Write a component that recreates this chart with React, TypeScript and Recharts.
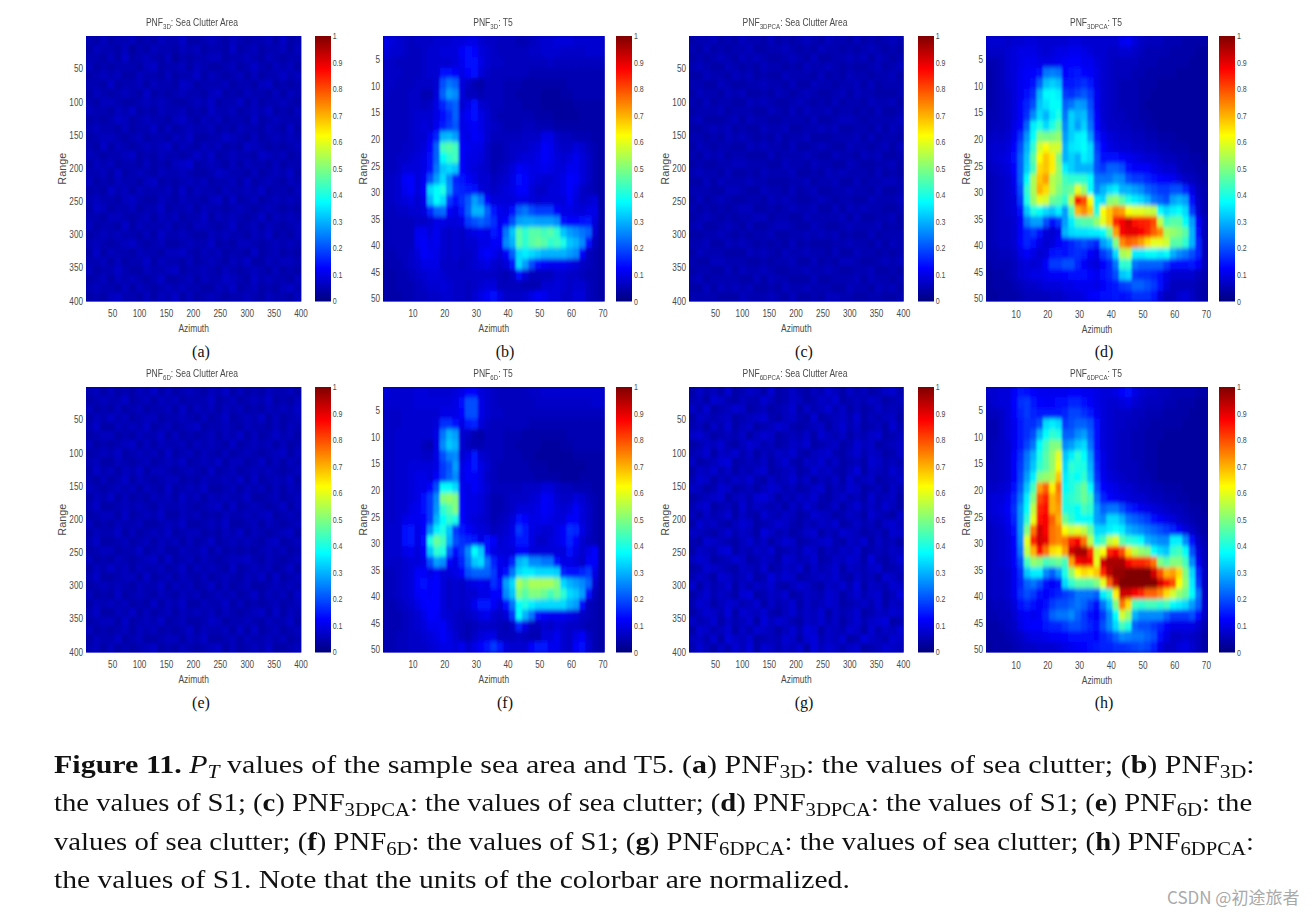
import React from "react";
import { ScatterChart, Scatter, XAxis, YAxis, CartesianGrid, BarChart, Bar, Label } from "recharts";

const seaA = [
"546455645465574456546545564745","465546354655465645547456455646","554647456546354556645565465455","645455546745564654456457546564",
"456564465546455746545646455756","554745564655476455564554674545","465456547454565546745465546465","546654456565445657455746455654",
"655465745465564547556456574546","454576456554675465645547456555","565546455746456556454655465474","456654564554657445576546456565",
"547465456567465465645476545456","654556745465545757456554765645","465645546454678456546465546455","556474565465565445765546456574",
"645465546745456564556474565465","454756465556474655465565745546","565546754465465546747456456565","476455645574556465545654565454",
"554665456465645574656545746565","645547465556454665457456465456","456565546475565446565546574546","565456754564456557454665456565",
"474655465546675465645547456454","556464557465546456546574465665","645575446556745565465456546454","456465654574456465576547565546",
"565546465456565544657456454675","454675546465746456545565465546",
];
const seaC = [
"455645465546454565465546454565","546454556445565454655454565454","454565465654456546445565646545","565446545465545465565454456456",
"446554656454465554645465545564","554465445565546446554556464555","465546564454654565445646554445","546455446565445654546455465564",
"455564555446546465564554546445","564445646554455546445665455556","445656454465564455656445546465","554546565454645564445556464554",
"465455446565546445654465545646","546564554446455565446554656445","454455665554465546554465445564","565546445465556445465655546454",
"446465556554445564556446455665","555446654465546456445565546445","464565445546565445654554465556","545454566445456556446465655445",
"456545455664554465555646445564","564456546445665446544565556454","445565454556445565656454464555","556446565454546454445565546465",
"465554446565465565546446554545","544665554454556446454665445656","455446465565445565565445564454","564555544646554446445556465545",
"446465656445465565554465546564","555544465556546445466554455445",
];
const seaE = [
"564645465746456546574645465564","456557456465645557456456574546","645464564556474656465645465657","465756456645565464574565746456",
"574465657456456745565465546465","456645465574645456465746457564","645456746465564656547456564645","456574565647456465464565456746",
"564465456456574565746645746465","475646574665456547456456565456",
"546457465456645465565747456574","654565646547456574456465646465","465746454656475646565574456456",
"574456565465565456747456545746","456647456574465645465565674565","645465564456574456574456465456",
"465574645657456645465746545674","574456456465646457456565467456","456645574564465574645454565645",
"645465456747456465456675465456","465756465564574656547456564574","574456647456465464565465747456",
"456565465574656457464564456565","645474565465465645656457465647","465656454746574465574645456456",
"574465746456465656465456747465","456647456574564457645565465574","645456465645457465564747456456",
"465574564456646574456465565645","564645456745465456746456574456",
];
const seaG = [
"475648457648457546586475645785","564875465586457645768456576456","758456874564568475685746457565","476567456785467548456758465674",
"564758467456875456746857456485","786456574687456574865746578456","457685468756457684567458674567","568476857465768546785468576457",
"745689456574685476857456487565","476857465784567458675469476586",
"587465768547568574657485674567","764587456468756457846587456475","456784675897465768546756485674",
"578456485765647586457468575864","647568475486576458764576486547","486754687456875465768457564786",
"765468576497564578465876456487","548765468574687456785476847564","476589465768456587465768456576",
"687456874576487568457687495468","458765476584576847568476578456","576487568459687456768547564875",
"847568475768546875476859476587","468576489457684576587468578469","587468756847568475687456758476",
"468759487685468576847568457687","756847568496875476857468578945","487568475876468598476587485768",
"675849768456587489576845976587","586475869487576849687578456876",
];

const peakB = [
[10,9,8,7,6,7,7,7,8,8,8,9,9,10,10,8,7,7,6,6,6,5,5,6,7,8,8,9,9,9,8,8,8,8,8],
[9,8,8,7,6,6,7,8,8,9,9,9,12,14,13,9,8,7,6,6,6,6,6,7,7,8,8,8,7,7,7,7,8,8,8],
[7,7,6,6,6,6,7,8,8,8,8,9,11,14,14,10,8,7,7,6,6,6,6,6,6,6,7,6,6,6,6,6,6,6,6],
[7,7,7,6,6,6,7,8,8,14,14,12,10,13,14,9,7,6,6,6,6,6,6,5,5,5,5,5,5,5,5,5,5,5,5],
[7,7,6,6,6,7,7,7,8,20,24,22,9,7,5,4,6,6,6,5,5,5,4,4,4,4,4,4,4,5,5,5,5,5,5],
[7,6,6,6,7,7,5,5,9,22,28,26,9,6,6,5,6,6,6,5,5,4,4,4,4,3,3,3,4,4,5,5,5,5,5],
[6,6,6,6,7,7,6,7,10,16,20,22,8,10,14,8,7,6,6,5,5,5,4,4,4,3,3,3,3,3,4,4,4,4,4],
[6,6,6,6,7,8,8,8,10,14,17,22,10,12,14,10,8,6,5,5,5,5,5,5,4,4,4,3,3,3,3,4,4,4,4],
[6,6,6,6,7,8,9,8,11,15,18,21,10,11,12,10,8,7,6,5,5,5,6,6,5,5,5,4,4,4,4,4,4,4,4],
[6,6,6,6,7,8,8,11,16,30,31,28,11,10,12,11,8,6,6,6,6,6,7,7,7,10,10,7,6,6,5,5,5,4,4],
[6,6,6,7,7,8,9,13,22,44,46,44,12,11,10,10,7,5,5,6,7,7,7,8,9,12,11,8,7,7,9,8,6,5,4],
[6,6,7,7,8,9,10,14,22,38,42,44,12,10,10,9,7,5,5,6,7,8,9,9,10,12,11,9,8,9,11,9,7,5,4],
[6,6,7,9,9,9,10,14,24,32,34,32,12,10,9,8,7,5,6,7,9,12,11,10,10,11,10,9,9,11,11,9,7,5,4],
[6,7,8,12,13,9,11,20,28,34,26,16,15,12,10,8,8,6,7,8,10,14,13,10,9,8,8,9,10,13,12,9,7,5,4],
[6,7,8,11,13,9,12,34,38,40,27,17,16,15,14,9,8,7,8,9,10,13,13,9,7,7,9,9,10,13,10,7,6,5,4],
[6,7,8,9,10,8,10,30,38,34,18,14,17,21,28,24,12,9,9,9,9,10,10,9,8,9,9,9,9,12,9,7,8,9,4],
[6,6,7,7,8,8,9,16,22,23,12,10,15,22,30,30,22,15,11,10,14,22,24,20,18,18,18,12,10,10,9,9,10,10,4],
[5,6,6,6,6,7,7,8,10,10,9,9,10,18,20,22,20,17,11,13,20,28,29,29,28,28,28,26,14,13,13,14,15,9,4],
[5,6,6,6,6,11,11,9,11,8,7,8,7,9,10,11,10,15,13,24,32,46,42,46,46,44,46,42,32,28,26,24,22,8,4],
[5,6,6,6,6,11,12,10,11,8,7,8,7,8,8,10,10,12,12,26,30,46,42,46,48,46,42,44,40,32,30,26,14,6,4],
[5,5,6,6,7,9,12,11,10,8,7,8,7,7,8,11,13,11,9,12,22,34,36,34,32,30,30,30,30,28,26,13,6,5,4],
[4,5,5,6,7,8,10,10,10,7,7,7,6,7,8,9,10,8,7,9,15,34,28,20,14,12,11,11,11,10,9,7,6,5,4],
[4,4,5,5,6,7,8,9,9,8,7,7,7,7,7,7,7,7,6,5,7,14,9,6,6,6,6,8,8,7,7,6,5,5,4],
[4,4,5,5,5,6,7,8,8,9,8,7,7,6,7,8,9,9,6,6,6,6,5,5,5,8,8,9,8,7,8,8,6,5,4],
[4,4,4,5,5,6,6,7,7,8,8,7,7,6,8,10,12,14,10,7,7,7,8,10,12,11,9,9,7,7,9,9,6,5,4],
];
const peakD = [
[8,8,8,7,8,8,9,9,8,8,8,8,8,9,9,8,8,8,8,8,8,11,12,9,7,6,6,6,5,5,5,4,4,4,4],
[7,7,7,8,9,10,10,10,9,8,9,10,10,11,11,10,9,8,8,7,7,8,8,7,6,5,5,5,5,4,4,4,4,3,3],
[5,5,6,8,9,10,11,11,10,10,10,11,12,13,13,11,11,9,8,7,6,6,6,6,5,5,5,4,4,4,4,4,3,3,3],
[4,5,6,8,9,11,12,13,14,24,25,24,13,14,15,13,12,10,8,7,6,6,6,5,5,4,4,4,4,4,3,3,3,3,3],
[4,5,6,8,9,11,12,14,22,31,33,31,15,15,16,17,15,10,8,7,6,5,5,5,4,4,4,3,3,3,3,3,3,3,3],
[4,5,6,7,9,11,14,17,30,37,38,36,18,17,19,21,18,11,8,7,6,5,5,5,4,4,3,3,3,3,3,3,3,3,3],
[4,5,6,7,9,12,16,20,32,35,38,38,22,24,28,27,20,11,8,7,6,5,5,5,4,3,3,3,3,3,3,3,3,3,3],
[5,5,6,7,9,12,17,26,34,30,36,40,24,33,30,31,22,12,8,7,6,6,5,5,4,4,3,3,3,3,3,3,3,3,3],
[5,6,6,7,10,13,22,36,40,34,40,46,26,33,28,33,24,13,9,7,7,6,6,5,5,4,4,3,3,3,3,3,3,3,3],
[6,7,7,8,11,17,27,38,50,49,50,52,28,33,36,37,28,15,11,9,8,7,7,6,6,5,5,4,4,4,3,3,3,3,3],
[7,8,8,9,13,20,30,42,58,62,58,58,30,35,36,38,34,18,13,10,9,8,8,7,7,6,6,5,5,4,4,4,3,3,3],
[7,8,9,10,14,22,32,46,62,68,64,50,30,33,30,36,34,20,14,14,14,12,11,10,9,8,8,7,6,6,5,5,4,4,3],
[6,7,8,9,13,22,33,44,66,68,64,52,36,33,30,30,30,20,18,22,22,20,14,12,12,12,10,9,8,8,6,5,5,4,4],
[5,6,7,8,11,22,38,54,68,72,55,52,44,42,42,42,38,24,24,24,27,26,20,18,18,16,14,13,12,11,9,7,6,5,4],
[5,6,7,8,10,20,42,54,70,66,56,50,46,48,60,52,38,26,30,34,36,30,30,28,26,22,20,18,18,20,20,16,10,6,5],
[5,6,7,8,9,18,40,52,60,58,48,46,42,56,86,80,62,36,34,50,52,46,40,36,34,30,24,22,20,28,30,28,14,7,5],
[5,6,7,8,9,14,32,40,38,34,32,36,28,44,70,74,68,40,62,68,74,72,62,60,60,58,56,38,34,36,38,34,18,8,5],
[5,6,7,7,8,12,24,28,28,20,14,18,28,36,44,46,46,52,60,68,84,88,92,86,85,84,80,56,44,46,46,38,28,12,6],
[5,6,7,7,8,12,16,18,14,9,8,10,30,34,35,35,36,36,38,48,72,88,90,90,88,84,78,74,54,52,50,46,30,14,6],
[5,6,7,7,8,13,16,14,10,8,9,12,14,16,18,20,18,16,28,32,50,74,78,76,72,66,60,60,58,46,46,42,30,16,6],
[5,5,6,6,7,10,12,10,8,9,14,15,14,16,17,16,12,10,18,22,34,54,56,36,36,38,38,36,38,30,26,24,20,16,6],
[4,5,5,5,6,8,9,8,9,12,18,18,20,20,16,12,10,9,13,16,24,42,42,24,22,22,22,22,18,14,14,14,15,12,6],
[3,4,4,5,6,8,9,10,10,11,12,12,13,14,14,14,13,11,14,16,20,32,34,18,17,17,16,14,10,8,8,8,8,6,5],
[3,4,4,4,5,6,7,7,8,9,9,9,10,10,11,11,11,10,12,14,15,18,19,22,22,20,18,14,9,6,6,6,6,5,4],
[3,3,4,4,4,5,6,6,6,6,7,7,8,9,9,10,12,13,14,14,15,14,15,17,17,17,15,9,6,6,8,9,7,5,4],
];
const peakF = [
[9,8,8,8,8,9,9,8,8,8,8,9,10,13,13,9,8,7,6,6,6,6,6,7,7,8,8,8,8,8,8,8,8,8,8],
[8,8,8,8,8,9,9,9,9,9,9,10,14,20,20,10,8,7,6,6,6,6,6,6,7,7,7,7,7,7,7,7,7,8,8],
[7,7,7,8,8,8,8,8,8,10,10,10,13,20,20,10,8,7,7,6,6,6,6,6,6,6,6,6,6,6,6,6,6,6,6],
[7,7,7,8,8,8,8,8,9,17,17,14,10,15,16,9,7,6,6,6,6,6,6,5,5,5,5,5,5,5,5,5,5,5,5],
[7,7,8,8,8,8,8,8,10,24,30,28,8,7,5,4,6,6,6,5,5,5,4,4,4,4,4,4,4,5,5,5,5,5,5],
[7,7,8,8,8,8,6,5,10,26,32,30,8,6,5,5,6,6,6,5,5,4,4,4,4,3,3,3,4,4,5,5,5,5,5],
[7,7,8,8,8,8,7,7,10,20,25,26,8,10,15,8,7,6,6,5,5,5,4,4,3,3,3,3,3,3,4,4,4,4,4],
[7,7,8,8,9,9,9,9,10,18,21,28,10,12,15,10,8,6,5,5,5,5,5,4,4,4,3,3,3,3,3,3,4,4,4],
[7,7,8,8,9,10,10,9,12,18,22,26,10,12,12,10,7,6,5,5,5,5,5,5,4,4,4,4,3,3,3,4,4,4,4],
[7,7,8,8,9,10,10,13,20,38,38,34,11,10,12,10,8,6,6,6,6,6,7,7,7,9,9,7,6,6,5,5,5,4,4],
[7,7,8,8,9,10,14,18,26,50,52,50,12,10,10,9,7,5,5,6,7,7,7,8,9,12,11,8,7,7,9,8,6,5,4],
[7,7,8,8,10,11,14,18,27,42,46,50,13,10,10,9,7,5,5,6,7,9,9,9,10,12,11,9,8,9,12,9,7,5,4],
[7,7,8,10,11,11,12,18,30,38,42,40,13,10,9,8,7,5,6,7,9,14,13,10,10,11,10,9,9,12,12,9,7,5,4],
[7,8,8,14,15,10,13,26,36,40,32,18,15,12,10,9,8,6,7,8,10,18,15,10,9,8,8,10,12,17,16,10,7,5,4],
[7,8,8,14,15,10,14,40,48,44,30,20,17,16,15,10,14,12,8,9,10,15,15,10,7,7,9,10,12,16,12,8,6,5,4],
[7,8,8,10,11,9,12,32,42,40,22,14,18,26,38,32,14,10,9,9,9,12,12,9,9,9,9,9,9,14,10,8,10,13,4],
[7,7,7,8,9,9,10,20,28,26,12,10,16,24,32,34,24,16,11,10,16,30,32,26,26,24,24,14,10,10,9,7,12,12,4],
[5,6,7,8,9,12,12,10,12,9,9,10,12,20,22,22,22,18,11,14,24,34,36,36,34,34,34,33,16,14,14,16,18,10,4],
[5,6,7,8,9,13,14,12,13,9,7,8,7,9,10,11,10,17,14,28,34,54,50,54,54,54,54,50,34,30,28,26,22,8,4],
[5,6,7,8,9,12,13,12,13,9,7,8,7,8,8,10,10,13,13,26,32,50,46,50,50,48,44,48,42,34,32,28,14,6,4],
[5,5,6,7,8,10,12,13,13,9,7,8,7,8,11,15,15,12,9,14,24,38,40,36,34,34,34,34,34,30,28,14,6,5,4],
[5,5,5,6,7,8,10,13,12,9,8,7,6,7,8,10,11,8,7,9,18,38,30,24,14,12,11,11,11,10,9,7,6,5,4],
[5,5,5,6,7,8,9,11,11,12,9,7,6,5,6,7,7,7,6,5,7,16,10,6,6,8,7,9,8,7,7,6,5,5,4],
[5,5,6,6,7,7,8,9,10,12,10,8,6,5,7,9,10,10,6,6,6,7,6,5,5,9,9,11,8,7,10,12,7,5,4],
[5,5,6,6,7,7,7,8,9,10,10,9,11,8,10,13,15,18,15,9,8,8,8,13,15,15,11,11,8,7,12,14,8,5,4],
];
const peakH = [
[8,8,9,9,12,15,14,13,11,11,11,11,11,12,12,11,11,10,9,9,10,13,14,10,8,7,7,6,6,5,5,5,5,4,4],
[7,8,9,9,13,17,18,15,13,12,12,14,14,16,16,14,12,10,9,8,8,9,10,8,7,6,6,6,5,5,4,4,4,3,3],
[6,6,7,9,12,16,18,16,15,15,15,15,16,19,19,17,15,11,9,8,7,7,7,6,6,5,5,5,4,4,4,4,3,3,3],
[5,5,7,9,11,15,17,17,20,34,36,34,18,20,22,22,20,14,9,8,7,7,6,6,5,5,4,4,4,4,4,3,3,3,3],
[5,5,7,9,11,15,17,20,30,38,42,40,22,22,26,28,22,14,9,8,7,6,6,5,5,4,4,4,3,3,3,3,3,3,3],
[5,6,7,8,11,15,19,24,38,44,50,50,26,28,32,34,24,14,9,8,7,6,6,5,5,4,4,3,3,3,3,3,3,3,3],
[5,6,7,8,12,17,24,30,40,46,52,60,32,36,42,38,28,15,10,8,7,6,6,5,5,4,4,3,3,3,3,3,3,3,3],
[6,6,7,8,12,18,25,32,42,46,52,62,34,42,40,40,30,16,10,8,7,6,6,6,5,4,4,3,3,3,3,3,3,3,3],
[6,6,7,8,12,19,28,36,50,52,54,68,36,40,38,42,32,17,11,9,8,7,6,6,5,5,4,3,3,3,3,3,3,3,3],
[7,7,8,9,14,21,32,44,72,78,64,76,38,40,44,48,38,20,13,11,10,8,8,7,6,6,5,5,4,4,4,3,3,3,3],
[8,9,9,11,16,24,36,50,80,84,70,74,40,42,44,48,44,24,16,13,11,10,9,8,8,7,6,6,5,5,4,4,3,3,3],
[8,9,10,12,17,27,38,56,84,86,70,72,40,40,38,44,42,28,22,24,24,20,16,14,11,10,9,8,7,6,6,5,4,4,3],
[7,8,9,11,16,27,42,60,86,88,78,70,48,42,38,38,38,28,26,34,34,30,24,22,20,18,14,12,10,9,7,6,5,4,4],
[6,7,8,10,14,27,50,76,92,88,76,74,62,58,60,56,48,34,34,36,38,36,30,28,26,24,22,20,18,16,12,9,7,5,4],
[6,7,8,9,13,26,60,84,92,90,76,74,76,84,88,76,56,40,44,56,60,46,42,40,38,30,28,26,26,36,36,26,14,7,5],
[6,7,8,9,12,24,56,70,86,76,66,64,72,92,96,96,84,58,62,84,88,80,66,56,52,50,38,34,32,42,44,38,20,9,6],
[6,7,8,9,12,20,44,52,50,44,46,48,44,72,88,90,88,60,92,96,96,96,88,84,84,82,76,50,46,50,50,44,26,11,6],
[6,7,7,8,11,17,32,36,36,26,22,28,40,52,62,66,64,68,84,94,98,98,100,100,100,100,92,80,70,72,66,50,34,16,7],
[6,7,7,8,11,16,22,24,20,14,12,14,34,42,46,46,46,50,60,78,94,100,100,100,100,100,100,92,86,80,62,52,36,18,7],
[6,7,7,8,11,17,20,18,14,13,14,16,18,20,24,24,24,22,36,42,64,92,92,88,84,78,78,74,66,58,52,48,38,24,7],
[5,6,6,7,9,14,16,14,12,14,18,20,20,22,24,22,18,14,24,32,50,76,66,44,42,44,44,42,44,38,36,34,28,22,8],
[5,5,6,6,8,11,12,11,12,16,22,24,24,26,22,18,14,12,18,26,38,58,52,30,26,26,26,26,22,18,18,18,20,14,7],
[4,4,5,6,7,10,12,13,13,15,16,16,18,20,20,18,16,14,20,26,34,44,40,22,20,20,18,16,12,10,10,10,10,8,5],
[4,4,4,5,6,7,9,10,10,11,12,12,13,14,14,14,14,13,16,18,22,26,25,24,24,22,20,14,10,7,7,8,7,6,4],
[3,4,4,4,5,6,7,7,8,8,8,9,10,11,12,13,14,15,16,16,17,17,18,19,20,19,16,10,7,7,9,10,8,6,4],
];

const seaXTicks = [50, 100, 150, 200, 250, 300, 350, 400];
const seaYTicks = [50, 100, 150, 200, 250, 300, 350, 400];
const peakXTicks = [10, 20, 30, 40, 50, 60, 70];
const peakYTicks = [5, 10, 15, 20, 25, 30, 35, 40, 45, 50];
const barTicks = [0, 0.1, 0.2, 0.3, 0.4, 0.5, 0.6, 0.7, 0.8, 0.9, 1];
const jetStops = [
  [0, "#00007f"], [0.125, "#0000ff"], [0.375, "#00ffff"], [0.625, "#ffff00"], [0.875, "#ff0000"], [1, "#7f0000"],
] as const;
const barData = [{ name: "scale", top: 1 }];

const clamp = (n: number) => Math.max(0, Math.min(1, n));
const jet = (v: number) => {
  const r = clamp(Math.min(4 * v - 1.5, -4 * v + 4.5));
  const g = clamp(Math.min(4 * v - 0.5, -4 * v + 3.5));
  const b = clamp(Math.min(4 * v + 0.5, -4 * v + 2.5));
  return `rgb(${Math.round(r * 255)},${Math.round(g * 255)},${Math.round(b * 255)})`;
};

const SANS = "'Liberation Sans',Arial,sans-serif";
const SERIF = "'Liberation Serif',serif";
const INK = "#4a4a4a";
const SQUEEZE = 0.82;

const ML = 36, MT = 4, MR = 10, MB = 36, BAR_MT = 12;

const XTick = ({ x, y, payload }: any) => (
  <text transform={`translate(${x},${y + 8}) scale(${SQUEEZE},1)`} textAnchor="middle" fontFamily={SANS} fontSize={10} fill={INK}>{payload.value}</text>
);
const YTick = ({ x, y, payload }: any) => (
  <text transform={`translate(${x},${y + 3.5}) scale(${SQUEEZE},1)`} textAnchor="end" fontFamily={SANS} fontSize={10} fill={INK}>{payload.value}</text>
);
const BarTick = ({ x, y, payload }: any) => (
  <text transform={`translate(${x},${y + 3}) scale(0.74,1)`} textAnchor="start" fontFamily={SANS} fontSize={9.5} fill={INK}>{payload.value}</text>
);

function Heat({ rows, xMax, yMax, xTicks, yTicks, left, top, w, h, labelGap, soft }: any) {
  const nr = rows.length, nc = rows[0].length;
  const sx = xMax / nc, sy = yMax / nr;
  const data = rows.flatMap((row: any, r: number) =>
    Array.from(row as ArrayLike<any>).map((v: any, c: number) => ({ az: 0.5 + (c + 0.5) * sx, rg: 0.5 + (r + 0.5) * sy, v: Number(v) / 100 })));
  const cw = w / nc + 0.6, ch = h / nr + 0.6;
  const Cell = (p: any) => (
    <rect x={p.cx - cw / 2} y={p.cy - ch / 2} width={cw} height={ch} fill={jet(p.payload.v)} />
  );
  return (
    <div className={soft} style={{ position: "absolute", left: left - ML, top: top - MT }}>
      <ScatterChart width={w + ML + MR} height={h + MT + MB} margin={{ left: 0, top: MT, right: MR, bottom: 0 }}>
        <CartesianGrid horizontal={false} vertical={false} fill="#0000b4" stroke="none" />
        <XAxis type="number" dataKey="az" domain={[0.5, xMax + 0.5]} ticks={xTicks} interval={0} height={MB}
          allowDataOverflow axisLine={false} tickLine={false} tickSize={0} tickMargin={8} tick={XTick}>
          <Label content={({ viewBox }: any) => (
            <text transform={`translate(${viewBox.x + viewBox.width / 2},${h + MT + 31}) scale(${SQUEEZE},1)`}
              textAnchor="middle" fontFamily={SANS} fontSize={10.3} fill={INK}>Azimuth</text>
          )} />
        </XAxis>
        <YAxis type="number" dataKey="rg" domain={[0.5, yMax + 0.5]} ticks={yTicks} interval={0} width={ML} reversed
          allowDataOverflow axisLine={false} tickLine={false} tickSize={0} tickMargin={3} tick={YTick}>
          <Label content={() => (
            <text transform={`translate(${ML - labelGap + 4},${MT + h / 2}) rotate(-90)`}
              textAnchor="middle" fontFamily={SANS} fontSize={10.8} fill={INK}>Range</text>
          )} />
        </YAxis>
        <Scatter data={data} isAnimationActive={false} shape={Cell} />
      </ScatterChart>
    </div>
  );
}

function ColorBar({ left, top, w, h, id }: any) {
  return (
    <div style={{ position: "absolute", left, top: top - BAR_MT }}>
      <BarChart width={w + 24} height={h + BAR_MT + 10} data={barData} margin={{ left: 0, top: BAR_MT, right: 0, bottom: 10 }}
        barCategoryGap={0}>
        <defs>
          <linearGradient id={id} x1="0" y1="1" x2="0" y2="0">
            {jetStops.map(([o, c]) => <stop key={o} offset={o} stopColor={c} />)}
          </linearGradient>
        </defs>
        <XAxis dataKey="name" hide />
        <YAxis orientation="right" domain={[0, 1]} ticks={barTicks} interval={0} width={24} axisLine={false} tickLine={false}
          tickSize={0} tickMargin={2} tick={BarTick} />
        <Bar dataKey="top" fill={`url(#${id})`} isAnimationActive={false} />
      </BarChart>
    </div>
  );
}

const Title = ({ cx, y, main, sub, rest }: any) => (
  <div style={{ position: "absolute", left: cx - 120, width: 240, top: y - 7, height: 14, lineHeight: "14px", textAlign: "center",
    fontFamily: SANS, fontSize: 10.4, color: INK, whiteSpace: "nowrap", transform: `scaleX(${SQUEEZE})` }}>
    {main}<span style={{ fontSize: 7.5, position: "relative", top: 3.5 }}>{sub}</span>{rest}
  </div>
);

const Tag = ({ cx, y, t }: any) => (
  <div style={{ position: "absolute", left: cx - 20, width: 40, top: y - 10, height: 20, lineHeight: "20px", textAlign: "center",
    fontFamily: SERIF, fontSize: 16, color: "#111" }}>{t}</div>
);

const Sub = ({ children }: any) => <span style={{ fontSize: "0.72em", position: "relative", top: "0.28em" }}>{children}</span>;
const B = ({ children }: any) => <b>{children}</b>;

const Line = ({ y, k, children }: any) => (
  <div style={{ position: "absolute", left: 54, top: y - 23, height: 30, lineHeight: "30px", whiteSpace: "nowrap",
    fontFamily: SERIF, fontSize: 25.5, color: "#111", transform: `scaleX(${k})`, transformOrigin: "0 0" }}>{children}</div>
);

const COLS = [
  { x: 85.7, w: 215.3, bar: 315.3, barW: 15.7, gap: 24, letter: ["a", "e"], tag: 201, sea: true },
  { x: 383.3, w: 221.7, bar: 616, barW: 16, gap: 20, letter: ["b", "f"], tag: 505, sea: false },
  { x: 688.7, w: 214.7, bar: 917.5, barW: 15.7, gap: 24, letter: ["c", "g"], tag: 804, sea: true },
  { x: 986, w: 222, bar: 1219, barW: 16, gap: 20, letter: ["d", "h"], tag: 1104, sea: false },
];
const ROWS = [
  { y: 35.5, h: 265.5, titleY: 22.5, tagY: 352 },
  { y: 387, h: 265.5, titleY: 373.5, tagY: 703 },
];
const GRIDS = [[seaA, peakB, seaC, peakD], [seaE, peakF, seaG, peakH]];
const TITLES = [
  [["PNF", "3D", ": Sea Clutter Area"], ["PNF", "3D", ": T5"], ["PNF", "3DPCA", ": Sea Clutter Area"], ["PNF", "3DPCA", ": T5"]],
  [["PNF", "6D", ": Sea Clutter Area"], ["PNF", "6D", ": T5"], ["PNF", "6DPCA", ": Sea Clutter Area"], ["PNF", "6DPCA", ": T5"]],
];

export default function App() {
  return (
    <div style={{ position: "fixed", left: 0, top: 0, width: 1314, height: 915, background: "#fff", overflow: "hidden" }}>
      <svg width={0} height={0} style={{ position: "absolute" }}>
        <filter id="softPeak"><feGaussianBlur stdDeviation="1.2 2" /></filter>
        <filter id="softSea"><feGaussianBlur stdDeviation="1.2 1.4" /></filter>
      </svg>
      <style>{`.peak .recharts-scatter { filter: url(#softPeak); } .sea .recharts-scatter { filter: url(#softSea); }`}</style>
      {ROWS.map((row, ri) => COLS.map((col, ci) => (
        <React.Fragment key={`${ri}-${ci}`}>
          <Title cx={col.x + col.w / 2 - 1} y={row.titleY} main={TITLES[ri][ci][0]} sub={TITLES[ri][ci][1]} rest={TITLES[ri][ci][2]} />
          <Heat rows={GRIDS[ri][ci]} xMax={col.sea ? 400 : 70} yMax={col.sea ? 400 : 50}
            xTicks={col.sea ? seaXTicks : peakXTicks} yTicks={col.sea ? seaYTicks : peakYTicks}
            left={col.x} top={row.y} w={col.w} h={row.h} labelGap={col.gap} soft={col.sea ? "sea" : "peak"} />
          <ColorBar left={col.bar} top={row.y} w={col.barW} h={row.h} id={`jet${ri}${ci}`} />
          <Tag cx={col.tag} y={row.tagY} t={`(${col.letter[ri]})`} />
        </React.Fragment>
      )))}
      <Line y={773} k={1.176}><B>Figure 11.</B> <i>P<Sub>T</Sub></i> values of the sample sea area and T5. (<B>a</B>) PNF<Sub>3D</Sub>: the values of sea clutter; (<B>b</B>) PNF<Sub>3D</Sub>:</Line>
      <Line y={811} k={1.124}>the values of S1; (<B>c</B>) PNF<Sub>3DPCA</Sub>: the values of sea clutter; (<B>d</B>) PNF<Sub>3DPCA</Sub>: the values of S1; (<B>e</B>) PNF<Sub>6D</Sub>: the</Line>
      <Line y={850} k={1.125}>values of sea clutter; (<B>f</B>) PNF<Sub>6D</Sub>: the values of S1; (<B>g</B>) PNF<Sub>6DPCA</Sub>: the values of sea clutter; (<B>h</B>) PNF<Sub>6DPCA</Sub>:</Line>
      <Line y={888} k={1.161}>the values of S1. Note that the units of the colorbar are normalized.</Line>
      <div style={{ position: "absolute", left: 1167, top: 886, height: 22, lineHeight: "22px", whiteSpace: "nowrap",
        fontFamily: "'Noto Sans CJK SC',sans-serif", fontSize: 17, color: "#a9a9a9" }}>CSDN @初途旅者</div>
    </div>
  );
}
